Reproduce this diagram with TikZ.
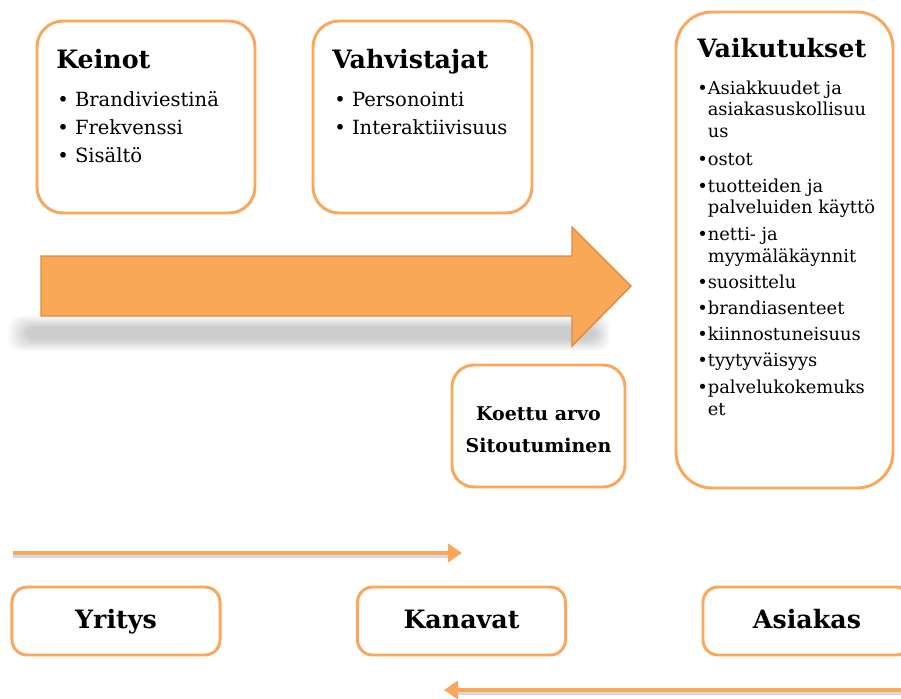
\documentclass[tikz,border=0pt]{standalone}
\usepackage{fontspec}
\setmainfont{DejaVu Serif}
\usetikzlibrary{arrows.meta}
\definecolor{boxorange}{RGB}{250,167,92}
\definecolor{arrowfill}{RGB}{249,168,87}
\definecolor{arrowedge}{RGB}{222,138,62}
\begin{document}
\begin{tikzpicture}[x=0.025cm,y=-0.025cm,
        box/.style={draw=boxorange,line width=2.1pt,fill=white},
        heading/.style={anchor=base west,inner sep=0pt,font=\fontsize{18}{21}\selectfont\bfseries},
        item/.style={anchor=base west,inner sep=0pt,font=\fontsize{13.9}{16}\selectfont},
        effect/.style={anchor=base west,inner sep=0pt,font=\fontsize{12.7}{15}\selectfont},
        actor/.style={box,rounded corners=0.38cm,minimum width=5.2cm,minimum height=1.7cm,
            text height=13pt,text depth=3pt,font=\fontsize{18}{21}\selectfont\bfseries},
        flow/.style={draw=boxorange,line width=3pt,-{Triangle[length=10pt,width=13pt]}}]
    \clip (0,0) rectangle (901,698);
    \fill[white] (0,0) rectangle (901,698);

    \foreach \i in {0,...,9}
        \fill[black,opacity=0.018,rounded corners=8pt] (8+2*\i,316+1.2*\i) rectangle (610-1.5*\i,351-1.2*\i);
    \draw[fill=arrowfill,draw=arrowedge,line width=1pt]
        (41,256) -- (572,256) -- (572,227) -- (631,286) -- (572,346) -- (572,316) -- (41,316) -- cycle;

    \draw[box,rounded corners=0.65cm] (37,21) rectangle (255,213);
    \node[heading] (keinot) at (56,68) {Keinot};
    \node[item] (brandi) at (57,106) {• Brandiviestinä};
    \node[item] (frekv) at (57,134) {• Frekvenssi};
    \node[item] (sisalto) at (57,162) {• Sisältö};

    \draw[box,rounded corners=0.65cm] (313,21) rectangle (532,213);
    \node[heading] (vahv) at (332,68) {Vahvistajat};
    \node[item] (person) at (334,106) {• Personointi};
    \node[item] (inter) at (334,134) {• Interaktiivisuus};

    \draw[box,rounded corners=0.9cm] (676,12) rectangle (893,488);
    \node[heading] (vaik) at (697,57) {Vaikutukset};
    \foreach \y/\t [count=\n] in {94/•Asiakkuudet ja, 115/\phantom{•}asiakasuskollisuu,
            137/\phantom{•}us, 165/•ostot, 192/•tuotteiden ja,
            213/\phantom{•}palveluiden käyttö, 240/•netti- ja,
            262/\phantom{•}myymäläkäynnit, 288/•suosittelu, 314/•brandiasenteet,
            340/•kiinnostuneisuus, 366/•tyytyväisyys, 393/•palvelukokemuks,
            415/\phantom{•}et}
        \node[effect] (eff\n) at (697,\y) {\t};

    \draw[box,rounded corners=0.55cm] (452,365) rectangle (625,487);
    \node[align=center,font=\fontsize{13.5}{22.7}\selectfont\bfseries] (koettu) at (538.5,430)
        {Koettu arvo\\Sitoutuminen};

    \node[actor] (yritys) at (116,621) {Yritys};
    \node[actor] (kanavat) at (461.5,621) {Kanavat};
    \node[actor] (asiakas) at (807,621) {Asiakas};

    \coordinate (outL) at (13,553);
    \coordinate (outR) at (462,553);
    \coordinate (inR) at (905,690);
    \coordinate (inL) at (444,690);
    \draw[black!30,line width=2.5pt,opacity=0.5] ([yshift=-2.5pt]outL) -- ([yshift=-2.5pt,xshift=-8pt]outR);
    \draw[black!30,line width=2.5pt,opacity=0.5] ([yshift=-2.5pt]inR) -- ([yshift=-2.5pt,xshift=8pt]inL);
    \draw[flow] (outL) -- (outR);
    \draw[flow] (inR) -- (inL);
\end{tikzpicture}
\end{document}
